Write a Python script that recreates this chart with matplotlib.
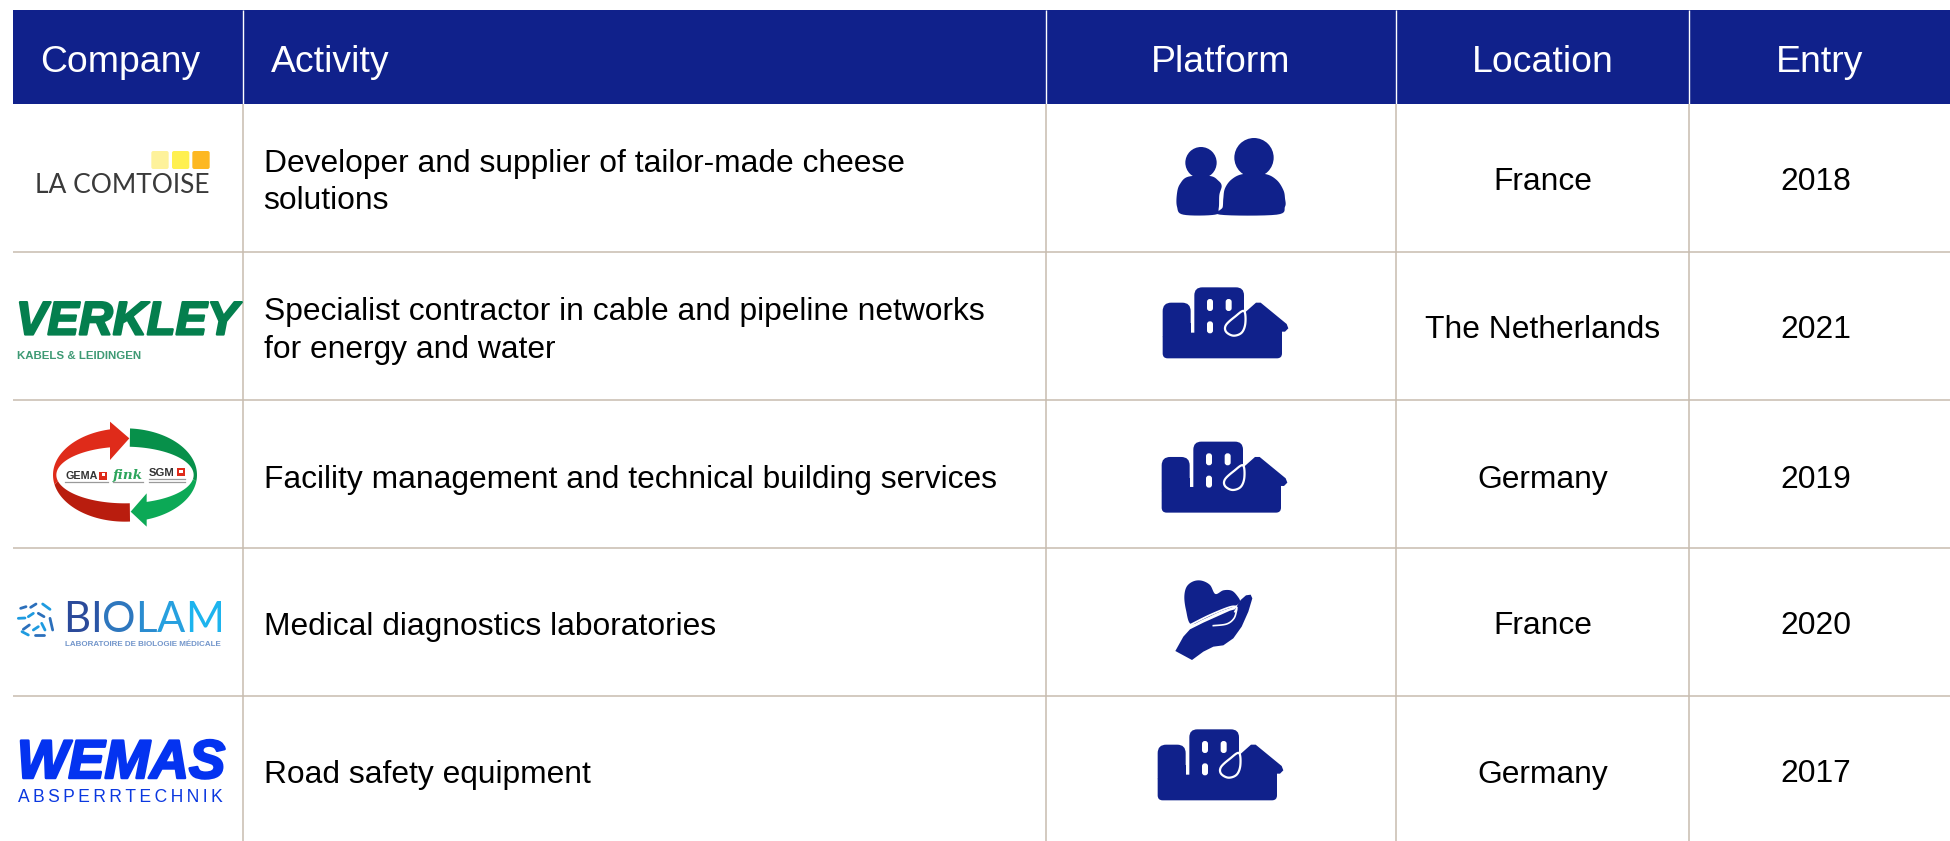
import numpy as np
import matplotlib
matplotlib.use("Agg")
import matplotlib.pyplot as plt
from matplotlib.patches import Polygon, Circle, FancyBboxPatch, Rectangle
import matplotlib.patheffects as pe

plt.rcParams['font.family'] = ['Liberation Sans', 'DejaVu Sans']

headers = ["Company", "Activity", "Platform", "Location", "Entry"]
companies = ["La Comtoise", "Verkley", "Gema Fink SGM", "Biolam", "Wemas"]
activities = ["Developer and supplier of tailor-made cheese\nsolutions",
              "Specialist contractor in cable and pipeline networks\nfor energy and water",
              "Facility management and technical building services",
              "Medical diagnostics laboratories",
              "Road safety equipment"]
platforms = ["people", "building", "building", "care", "building"]
locations = ["France", "The Netherlands", "Germany", "France", "Germany"]
entries = ["2018", "2021", "2019", "2020", "2017"]

NAVY = "#10218B"
RULE = "#C8BCAF"
W, H = 1950, 841
fig = plt.figure(figsize=(W/100, H/100), dpi=100, facecolor="white")
ax = fig.add_axes([0, 0, 1, 1])
ax.set_xlim(0, W); ax.set_ylim(H, 0); ax.axis("off")

col_x = [243, 1046, 1396, 1689]
row_y = [104, 252, 400, 548, 696]
row_c = [178.5, 327, 476, 623, 771]
head_x = [120.5, 271, 1221, 1542.5, 1820]
body_size = 22.9
head_size = 26.9

ax.add_patch(Rectangle((13, 10), W-13, 94, fc=NAVY, ec="none", zorder=1))
for x in col_x:
    ax.plot([x, x], [10, 104], color="white", lw=1.0, zorder=2, solid_capstyle="butt")
    ax.plot([x, x], [104, H], color=RULE, lw=1.1, zorder=2, solid_capstyle="butt")
for y in row_y[1:]:
    ax.plot([13, W], [y, y], color=RULE, lw=1.1, zorder=2, solid_capstyle="butt")

for i, h in enumerate(headers):
    ax.text(head_x[i], 58, h, color="white", fontsize=head_size,
            ha="left" if i == 1 else "center", va="center_baseline", zorder=3)

for i in range(5):
    yc = row_c[i]
    lines = activities[i].split("\n")
    offs = [-18.5, 19] if len(lines) == 2 else [0]
    for l, o in zip(lines, offs):
        ax.text(263.5, yc+o, l, color="black", fontsize=body_size, ha="left", va="center_baseline", zorder=3)
    ax.text(1543, yc, locations[i], color="black", fontsize=body_size, ha="center", va="center_baseline", zorder=3)
    ax.text(1816, yc, entries[i], color="black", fontsize=body_size, ha="center", va="center_baseline", zorder=3)

# ---------- helpers ----------
def smooth(pts, closed=True, n=8):
    p = np.asarray(pts, float)
    m = len(p)
    out = []
    rng = range(m) if closed else range(m-1)
    for i in rng:
        if closed:
            a, b, c, d = p[(i-1) % m], p[i], p[(i+1) % m], p[(i+2) % m]
        else:
            a, b, c, d = p[max(i-1, 0)], p[i], p[i+1], p[min(i+2, m-1)]
        for t in np.linspace(0, 1, n, endpoint=False):
            out.append(0.5*((2*b)+(-a+c)*t+(2*a-5*b+4*c-d)*t*t+(-a+3*b-3*c+d)*t**3))
    if not closed:
        out.append(p[-1])
    return np.array(out)

def rrect(x0, y0, x1, y1, r, fc, z=4):
    ax.add_patch(FancyBboxPatch((x0+r, y0+r), x1-x0-2*r, y1-y0-2*r,
                                boxstyle=f"round,pad={r},rounding_size={r}",
                                fc=fc, ec="none", lw=0, zorder=z, mutation_aspect=1))

def poly(pts, fc, z=4, ec="none", lw=0):
    ax.add_patch(Polygon(pts, closed=True, fc=fc, ec=ec, lw=lw, zorder=z))

def fit_text(s, x0, x1, yc, bold_stroke=0, **kw):
    t = ax.text(x0, yc, s, fontsize=20, ha="left", va="center_baseline", zorder=5, **kw)
    w = t.get_window_extent(fig.canvas.get_renderer()).width
    t.set_fontsize(20*(x1-x0)/w)
    if bold_stroke:
        t.set_path_effects([pe.withStroke(linewidth=bold_stroke, foreground=kw.get("color"))])
    return t

# ---------- platform icons ----------
def icon_people():
    Z = lambda x, y: (1120+x/3, 110+y/3)
    c = NAVY
    ax.add_patch(Circle(Z(243, 158), 47/3, fc=c, ec="none", zorder=4))
    ax.add_patch(Circle(Z(402, 143), 59/3, fc=c, ec="none", zorder=4))
    body1 = [(171, 290), (171, 250), (180, 222), (205, 200), (270, 198), (295, 212), (305, 228),
             (298, 255), (296, 295), (285, 314), (190, 314)]
    poly(smooth([Z(*p) for p in body1]), c)
    body2 = [(310, 265), (315, 235), (335, 208), (370, 192), (435, 192), (470, 210), (490, 240),
             (495, 265), (495, 290), (470, 314), (300, 314), (308, 292)]
    poly(smooth([Z(*p) for p in body2]), c)

def icon_building(dx, dy):
    Z = lambda x, y: (1120+dx+x/3, 110+dy+y/3)
    c = NAVY
    rrect(*Z(128, 578), *Z(212, 700), 8.5, c)
    rrect(*Z(223, 532), *Z(372, 720), 8, c)
    rrect(*Z(128, 668), *Z(486, 745), 5, c)
    ax.add_patch(Rectangle(Z(128, 640), 84/3, 80/3, fc=c, ec="none", zorder=4))
    poly([Z(372, 610), Z(408, 578), Z(422, 578), Z(500, 642), Z(505, 655), Z(495, 665), Z(486, 665), Z(486, 700), Z(372, 700)], c)
    for (x, y) in [(270, 585), (326, 585), (270, 652)]:
        rrect(*Z(x-9, y-18), *Z(x+9, y+18), 2.8, "white", z=5)
    drop = smooth([Z(372, 603), Z(376, 640), Z(365, 668), Z(340, 677), Z(318, 665), Z(318, 645), Z(345, 620)])
    ax.add_patch(Polygon(drop, closed=True, fc=c, ec="white", lw=1.6, zorder=6))

def icon_care():
    Z = lambda x, y: (1120+x/3, 420+y/3)
    c = NAVY
    heart = [(212, 612), (198, 570), (193, 530), (200, 500), (220, 484), (245, 482), (270, 495), (286, 522),
             (310, 511), (335, 512), (352, 528), (360, 545), (345, 558), (300, 575), (250, 598)]
    poly(smooth([Z(*p) for p in heart]), c)
    hand = [(166, 693), (190, 650), (210, 628), (250, 608), (330, 572), (345, 568), (362, 540), (378, 526),
            (392, 524), (397, 535), (385, 575), (365, 620), (340, 655), (310, 676), (280, 680), (250, 695), (216, 720)]
    poly([Z(*p) for p in hand], c)
    fold = smooth([Z(280, 617), Z(320, 612), Z(342, 595), Z(350, 570)], closed=False)
    ax.plot(fold[:, 0], fold[:, 1], color="white", lw=1.2, zorder=5)
    crease = smooth([Z(212, 614), Z(270, 585), Z(330, 561), Z(350, 562), Z(345, 575)], closed=False)
    ax.plot(crease[:, 0], crease[:, 1], color="white", lw=1.3, zorder=5)

building_offsets = {1: (0, 0), 2: (-1, 154.3), 4: (-5, 442)}
for i, kind in enumerate(platforms):
    if kind == "people":
        icon_people()
    elif kind == "care":
        icon_care()
    else:
        icon_building(*building_offsets[i])

# ---------- company logos ----------
def logo_comtoise():
    for x0, col in [(454, "#FEF29A"), (516, "#FFF04F"), (577, "#FDB822")]:
        rrect(x0/3, 453/3, (x0+52)/3, 507/3, 2, col)
    fit_text("LA COMTOISE", 35, 210, 182.5, family=["Lato", "Liberation Sans"], color="#3A3A3A")

def logo_verkley():
    fit_text("VERKLEY", 16, 238, 317.5, bold_stroke=1.6, family=["Liberation Sans"], weight="bold", style="italic", color="#047F4E")
    fit_text("KABELS & LEIDINGEN", 17, 141, 354.5, family=["Liberation Sans"], weight="bold", color="#3E9A74")

def logo_gema():
    Z = lambda x, y: (x/3, 400+y/3)
    cx, cy = 375, 225
    a_o, b_o, a_i, b_i = 216, 140, 206, 85
    def ring(t0, t1, n=40):
        t = np.radians(np.linspace(t0, t1, n))
        outer = np.c_[cx+a_o*np.cos(t), cy+b_o*np.sin(t)]
        inner = np.c_[cx+a_i*np.cos(t[::-1]), cy+b_i*np.sin(t[::-1])]
        return np.vstack([outer, inner])
    poly([Z(*p) for p in ring(168, 258)], "#DF2B1A")
    poly([Z(330, 65), Z(388, 115), Z(330, 180)], "#DF2B1A")
    poly([Z(*p) for p in ring(168, 86)], "#B91D0E")
    poly([Z(*p) for p in ring(-86, 8)], "#07904A")
    poly([Z(*p) for p in ring(8, 73)], "#0CA956")
    poly([Z(440, 280), Z(392, 335), Z(440, 380)], "#0CA956")
    fit_text("GEMA", 195/3, 292/3, 400+225/3, family=["Liberation Sans"], weight="bold", color="#333333")
    fit_text("fink", 338/3, 428/3, 400+222/3, family=["DejaVu Serif"], style="italic", weight="bold", color="#2DA55C")
    fit_text("SGM", 447/3, 524/3, 400+215/3, family=["Liberation Sans"], weight="bold", color="#333333")
    for x0, y0 in ((298, 215), (530, 205)):
        ax.add_patch(Rectangle(Z(x0, y0), 24/3, 24/3, fc="#DF2B1A", ec="none", zorder=5))
        ax.add_patch(Rectangle(Z(x0+8, y0+4), 10/3, 10/3, fc="white", ec="none", zorder=6))
    for a, b, y in ((195, 325, 245), (338, 428, 247), (447, 555, 246), (447, 555, 238)):
        ax.plot([a/3, b/3], [400+y/3, 400+y/3], color="#9A9A9A", lw=0.9, zorder=5)

def logo_biolam():
    letters = "BIOLAM"
    cols = ["#2B4A9A", "#2A55A5", "#2E77BE", "#2A8CD0", "#27A0DF", "#1DB4EE"]
    fam = ["Lato", "Liberation Sans"]
    probe = ax.text(0, 0, letters, fontsize=20, family=fam)
    r = fig.canvas.get_renderer()
    total = probe.get_window_extent(r).width
    size = 20*160/total
    probe.remove()
    for k, (l, c) in enumerate(zip(letters, cols)):
        probe = ax.text(0, 0, letters[:k] or " ", fontsize=size, family=fam)
        adv = probe.get_window_extent(r).width if k else 0
        probe.remove()
        ax.text(63+adv, 617, l, fontsize=size, color=c, va="center_baseline", ha="left", zorder=5, family=fam)
    fit_text("LABORATOIRE DE BIOLOGIE MÉDICALE", 65, 222, 643, family=["Liberation Sans"], weight="bold", color="#7396CB")
    caps = [((62, 625), (78, 620)), ((55, 655), (75, 654)), ((92, 622), (108, 612)), ((128, 612), (150, 628)),
            ((70, 688), (88, 675)), ((85, 650), (100, 640)), ((115, 640), (132, 650)), ((125, 670), (135, 690)),
            ((150, 655), (158, 690)), ((66, 695), (85, 705)), ((105, 706), (132, 706)), ((100, 690), (115, 680))]
    shades = ["#2B6FBB", "#1E9BE0", "#2B6FBB", "#1E9BE0", "#2B6FBB", "#1E9BE0"]
    for k, (a, b) in enumerate(caps):
        ax.plot([a[0]/3, b[0]/3], [400+a[1]/3, 400+b[1]/3], color=shades[k % 6], lw=2.0,
                solid_capstyle="round", zorder=5)

def logo_wemas():
    fit_text("WEMAS", 17, 225, 758.5, bold_stroke=1.8, family=["Liberation Sans"], weight="bold", style="italic", color="#0433F0")
    fit_text("\u2009".join("ABSPERRTECHNIK"), 18, 224, 795, family=["Liberation Sans", "DejaVu Sans"], color="#0B38E0")

logo_comtoise(); logo_verkley(); logo_gema(); logo_biolam(); logo_wemas()

fig.savefig("out.png", dpi=100, facecolor="white")
